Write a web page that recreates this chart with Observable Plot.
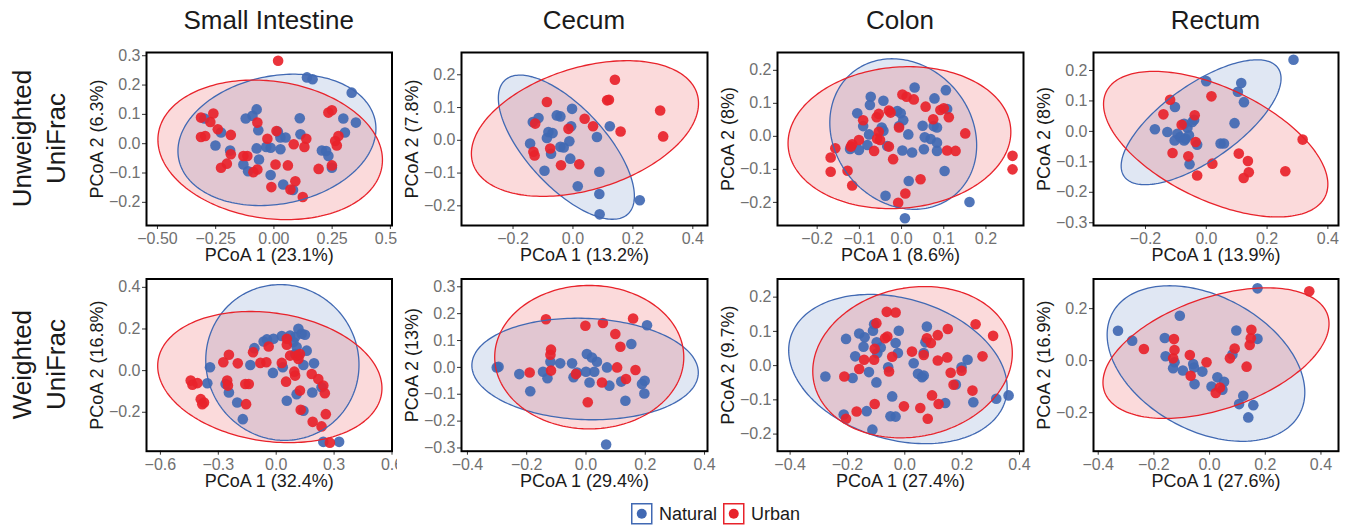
<!DOCTYPE html>
<html><head><meta charset="utf-8">
<script src="https://cdn.jsdelivr.net/npm/d3@7"></script>
<script src="https://cdn.jsdelivr.net/npm/@observablehq/plot@0.6"></script>
<style>
body{margin:0;background:#fff;}
#root{position:relative;width:1349px;height:527px;overflow:hidden;background:#fff;font-family:'Liberation Sans',Arial,sans-serif;}
.pnl{position:absolute;}
.pnl svg{display:block;}
</style>
</head><body><div id="root"></div>
<script>
// ---------- data ----------
const columnTitles = ["Small Intestine", "Cecum", "Colon", "Rectum"];
const rowTitles = [["Unweighted", "UniFrac"], ["Weighted", "UniFrac"]];
const groups = ["Natural", "Urban"];
const groupColors = ["#4169B3", "#E8232B"];

const xLabels = ["PCoA 1 (23.1%)", "PCoA 1 (13.2%)", "PCoA 1 (8.6%)", "PCoA 1 (13.9%)",
                 "PCoA 1 (32.4%)", "PCoA 1 (29.4%)", "PCoA 1 (27.4%)", "PCoA 1 (27.6%)"];
const yLabels = ["PCoA 2 (6.3%)", "PCoA 2 (7.8%)", "PCoA 2 (8%)", "PCoA 2 (8%)",
                 "PCoA 2 (16.8%)", "PCoA 2 (13%)", "PCoA 2 (9.7%)", "PCoA 2 (16.9%)"];

const xDomains = [[-0.547, 0.507], [-0.372, 0.449], [-0.294, 0.289], [-0.371, 0.435],
                  [-0.672, 0.6], [-0.42, 0.41], [-0.444, 0.414], [-0.417, 0.463]];
const yDomains = [[-0.279, 0.311], [-0.26, 0.268], [-0.27, 0.254], [-0.309, 0.259],
                  [-0.387, 0.44], [-0.312, 0.329], [-0.25, 0.253], [-0.348, 0.314]];

const xTicks = [[-0.5, -0.25, 0, 0.25, 0.5], [-0.2, 0, 0.2, 0.4], [-0.2, -0.1, 0, 0.1, 0.2], [-0.2, 0, 0.2, 0.4],
                [-0.6, -0.3, 0, 0.3, 0.6], [-0.4, -0.2, 0, 0.2, 0.4], [-0.4, -0.2, 0, 0.2, 0.4], [-0.4, -0.2, 0, 0.2, 0.4]];
const xTickFormats = [".2f", ".1f", ".1f", ".1f", ".1f", ".1f", ".1f", ".1f"];
const yTicks = [[-0.2, -0.1, 0, 0.1, 0.2, 0.3], [-0.2, -0.1, 0, 0.1, 0.2], [-0.2, -0.1, 0, 0.1, 0.2], [-0.3, -0.2, -0.1, 0, 0.1, 0.2],
                [-0.2, 0, 0.2, 0.4], [-0.3, -0.2, -0.1, 0, 0.1, 0.2, 0.3], [-0.2, -0.1, 0, 0.1, 0.2], [-0.2, 0, 0.2]];

// ellipse: [centerX, centerY, halfWidthX, halfHeightY, tilt (sin of phase)]
const naturalEllipses = [[0.013, 0.013, 0.425, 0.224, 0.17], [-0.022, -0.021, 0.227, 0.22, -0.68],
                         [0.004, 0.007, 0.174, 0.228, -0.15], [-0.017, 0.03, 0.263, 0.205, 0.7],
                         [0.032, 0.039, 0.397, 0.374, -0.03], [-0.003, -0.006, 0.382, 0.189, -0.07],
                         [-0.024, -0.01, 0.381, 0.218, -0.25], [-0.013, -0.011, 0.355, 0.299, -0.37]];
const urbanEllipses = [[-0.016, -0.021, 0.482, 0.238, -0.145], [0.04, 0.036, 0.379, 0.207, 0.37],
                       [-0.005, -0.004, 0.264, 0.215, 0.08], [0.031, -0.042, 0.369, 0.239, -0.55],
                       [-0.033, -0.031, 0.581, 0.315, -0.17], [0.011, 0.038, 0.319, 0.267, 0],
                       [0.027, 0.01, 0.348, 0.221, 0.12], [0.023, 0.029, 0.406, 0.251, 0.45]];

// points per panel
const siUnweightedNatural = [[0.142,0.226],[0.166,0.22],[0.334,0.174],[0.298,0.086],[0.352,0.072],[0.305,0.038],[0.206,-0.023],[0.224,-0.025],[0.234,-0.042],[0.249,-0.082],[0.111,0.087],[0.114,0.032],[0.028,0.021],[0.05,0.021],[0.028,-0.019],[-0.014,-0.014],[-0.033,-0.011],[0.017,0.041],[-0.074,0.117],[-0.092,0.095],[-0.121,0.086],[-0.067,0.046],[-0.074,-0.016],[-0.227,0.038],[-0.188,-0.023],[-0.251,-0.006],[-0.131,-0.071],[-0.111,-0.094],[-0.064,-0.054],[-0.014,-0.107],[0.04,-0.139],[0.082,-0.158],[-0.298,0.086]];
const siUnweightedUrban = [[0.018,0.283],[-0.313,0.089],[-0.26,0.103],[-0.273,0.074],[-0.241,0.049],[-0.313,0.023],[-0.295,0.026],[-0.185,0.03],[-0.227,-0.082],[-0.202,-0.068],[-0.185,-0.036],[-0.071,0.072],[-0.114,-0.042],[-0.131,-0.042],[-0.071,-0.088],[-0.088,-0.097],[-0.028,0.017],[0.011,0.043],[0.007,-0.071],[0.06,-0.074],[-0.011,-0.148],[0.085,-0.002],[0.139,0.017],[0.131,-0.011],[0.192,-0.086],[0.234,0.106],[0.249,0.114],[0.263,0.009],[0.277,0.026],[0.27,-0.006],[0.249,-0.074],[0.092,-0.128],[0.071,-0.156],[0.124,-0.182]];
const cecUnweightedNatural = [[-0.003,0.096],[-0.115,0.068],[-0.134,0.056],[-0.054,0.076],[-0.042,0.073],[-0.082,0.025],[-0.068,0.022],[-0.087,0.007],[-0.006,0.043],[-0.143,-0.01],[-0.012,-0.003],[-0.042,-0.02],[-0.031,-0.022],[-0.073,-0.041],[-0.009,-0.056],[-0.095,-0.093],[0.08,0.01],[0.123,0.043],[0.088,-0.096],[0.016,-0.14],[0.088,-0.164],[0.223,-0.183],[0.089,-0.226]];
const cecUnweightedUrban = [[0.14,0.185],[0.114,0.122],[0.12,0.124],[0.291,0.091],[0.301,0.012],[0.159,0.027],[0.067,0.043],[0.039,0.066],[-0.015,0.035],[-0.087,0.117],[-0.126,0.051],[-0.132,-0.035],[-0.128,-0.046],[-0.076,-0.025],[-0.04,-0.076],[0.021,-0.073]];
const colUnweightedNatural = [[0.031,0.148],[0.105,0.14],[0.078,0.115],[-0.073,0.12],[-0.075,0.095],[-0.043,0.108],[-0.105,0.07],[-0.01,0.077],[-0.002,0.07],[0.004,0.049],[-0.091,0.031],[-0.077,0.006],[-0.047,0.027],[-0.043,0.017],[-0.006,0.031],[0.016,0.006],[0.05,0.032],[0.076,0.031],[0.084,0.027],[0.055,-0.003],[0.069,-0.008],[0.084,-0.019],[0.084,-0.044],[0.108,0.083],[0.053,-0.039],[0.002,-0.043],[0.025,-0.049],[-0.122,-0.038],[-0.101,-0.041],[-0.081,-0.026],[-0.034,-0.029],[0.102,-0.105],[0.017,-0.135],[-0.038,-0.18],[0.161,-0.199],[0.008,-0.248]];
const colUnweightedUrban = [[0.002,0.127],[0.012,0.12],[0.029,0.112],[0.057,0.09],[0.092,0.08],[0.1,0.085],[0.112,0.058],[0.075,0.052],[0.151,0.009],[0.108,-0.043],[0.128,-0.044],[0.263,-0.059],[0.263,-0.1],[0.045,-0.13],[0.009,-0.173],[-0.008,-0.201],[-0.02,-0.069],[-0.03,-0.031],[-0.054,0.014],[-0.058,-0.007],[-0.051,-0.011],[-0.03,0.078],[-0.026,0.072],[-0.054,0.068],[-0.059,0.058],[-0.065,-0.044],[-0.091,0.049],[-0.101,-0.011],[-0.117,-0.024],[-0.12,-0.031],[-0.157,-0.036],[-0.168,-0.064],[-0.168,-0.107],[-0.128,-0.104],[-0.117,-0.149],[-0.006,0.027]];
const recUnweightedNatural = [[0.287,0.235],[0,0.165],[0.115,0.159],[0.104,0.13],[0.124,0.096],[0.093,0.027],[-0.103,0.08],[-0.169,0.007],[-0.128,-0.002],[-0.073,0.025],[-0.062,0.012],[-0.046,0.031],[-0.04,0.038],[-0.095,-0.008],[-0.086,-0.019],[-0.104,-0.03],[-0.068,-0.024],[-0.057,-0.013],[-0.073,-0.03],[-0.03,-0.044],[0.047,-0.04],[0.058,-0.04],[-0.055,-0.108]];
const recUnweightedUrban = [[-0.119,0.104],[-0.141,0.056],[0.017,0.115],[-0.038,0.053],[-0.081,0.022],[-0.111,-0.071],[-0.059,-0.082],[-0.035,-0.035],[0.02,-0.106],[-0.03,-0.145],[0.107,-0.073],[0.137,-0.097],[0.14,-0.134],[0.123,-0.153],[0.26,-0.131],[0.317,-0.027]];
const siWeightedNatural = [[-0.343,0.016],[-0.357,-0.061],[-0.262,-0.064],[-0.245,-0.105],[-0.202,-0.153],[-0.173,-0.233],[-0.134,0.027],[-0.113,0.108],[-0.065,0.14],[-0.048,0.15],[-0.014,0.153],[0.029,0.166],[0.072,0.169],[0.098,0.161],[0.115,0.201],[0.132,0.177],[0.149,0.172],[0.089,0.137],[0.106,0.113],[-0.017,-0.011],[0.034,0.016],[0.055,-0.145],[0.098,0.08],[0.115,0.072],[0.141,0.027],[0.158,0.096],[0.196,0.035],[0.187,-0.105],[0.106,-0.113],[0.141,-0.193],[0.235,-0.08],[0.244,-0.342],[0.326,-0.342]];
const siWeightedUrban = [[-0.443,-0.048],[-0.434,-0.068],[-0.408,-0.06],[-0.391,-0.137],[-0.383,-0.161],[-0.374,-0.153],[-0.274,0.04],[-0.245,0.076],[-0.199,0.035],[-0.254,-0.048],[-0.25,-0.072],[-0.16,-0.064],[-0.142,-0.064],[-0.156,-0.161],[-0.12,0.088],[-0.082,0.037],[-0.051,0.04],[-0.039,0.116],[0.029,0.037],[0.051,-0.053],[0.055,0.124],[0.055,0.153],[0.072,0.072],[0.106,0.072],[0.115,0.056],[0.094,-0.005],[0.098,-0.024],[0.123,-0.096],[0.127,-0.188],[0.184,-0.016],[0.218,-0.04],[0.244,-0.072],[0.252,-0.109],[0.257,-0.209],[0.189,-0.246],[0.235,-0.268],[0.278,-0.346],[0.123,0.08]];
const cecWeightedNatural = [[0.206,0.157],[0.153,0.087],[-0.295,0.002],[-0.301,0],[-0.225,-0.025],[-0.188,-0.089],[-0.145,-0.016],[-0.13,-0.04],[-0.12,0.021],[-0.087,0.015],[-0.047,0.015],[-0.042,-0.037],[-0.03,-0.019],[0.003,0.05],[0.02,0.037],[0.037,0.021],[0,-0.016],[0.028,-0.016],[0.071,0],[0.012,-0.056],[0.079,-0.068],[0.119,-0.053],[0.133,-0.124],[0.189,-0.062],[0.198,-0.05],[0.197,-0.097],[0.068,-0.287]];
const cecWeightedUrban = [[-0.135,0.179],[-0.002,0.155],[0.057,0.165],[0.159,0.182],[0.099,0.124],[0.116,0.077],[-0.118,0.066],[-0.12,0.047],[-0.118,-0.012],[-0.19,-0.019],[-0.034,-0.025],[0.054,-0.056],[0.105,0],[0.167,-0.01],[0.135,-0.043],[0.006,-0.13]];
const colWeightedNatural = [[-0.205,0.078],[-0.159,0.094],[-0.14,0.083],[-0.144,0.055],[-0.107,0.121],[-0.111,0.102],[-0.098,0.068],[-0.084,0.053],[-0.096,0.036],[-0.173,0.027],[-0.125,-0.019],[-0.182,-0.036],[-0.277,-0.032],[-0.099,-0.049],[-0.058,-0.005],[-0.021,0.102],[-0.032,0.066],[-0.024,0.037],[0.031,0.007],[0.046,-0.024],[0.066,-0.029],[0.06,-0.034],[0.077,0.114],[0.072,0.068],[0.066,0.037],[0.198,-0.005],[0.219,0.017],[0.178,-0.055],[0.239,-0.107],[0.141,-0.109],[0.319,-0.097],[0.362,-0.087],[-0.044,-0.09],[-0.05,-0.148],[-0.032,-0.149],[-0.133,-0.133],[-0.213,-0.143],[-0.113,-0.187]];
const colWeightedUrban = [[-0.063,0.157],[-0.032,0.155],[-0.099,0.124],[-0.069,0.08],[-0.061,0.085],[-0.105,0.049],[-0.107,0.017],[-0.142,0.017],[-0.159,-0.01],[-0.211,-0.032],[-0.044,0.026],[-0.055,-0.017],[0.025,0.041],[0.066,0.031],[0.077,0.08],[0.091,0.066],[0.115,0.089],[0.15,0.107],[0.115,0.015],[0.148,0.024],[0.16,-0.021],[0.17,-0.056],[0.198,-0.015],[0.247,0.121],[0.308,0.087],[0.271,0.027],[0.236,-0.073],[0.095,-0.087],[0.118,-0.112],[-0.003,-0.119],[0.054,-0.124],[0.08,-0.155],[-0.105,-0.112],[-0.168,-0.134],[-0.205,-0.155]];
const recWeightedNatural = [[0.172,0.278],[-0.329,0.115],[-0.278,0.077],[-0.107,0.173],[-0.161,0.087],[-0.158,0.017],[-0.126,-0.006],[-0.131,-0.029],[-0.096,-0.038],[-0.059,-0.013],[-0.056,-0.026],[-0.026,-0.042],[-0.054,-0.09],[0.007,-0.099],[0.028,-0.064],[0.052,-0.081],[0.046,-0.112],[0.096,0.116],[0.082,0.024],[0.172,0.084],[0.121,-0.135],[0.106,-0.167],[0.157,-0.171],[0.139,-0.218]];
const recWeightedUrban = [[0.358,0.267],[-0.236,0.045],[-0.128,0.083],[-0.126,0.041],[-0.131,0.009],[-0.071,0.022],[-0.068,-0.058],[-0.011,-0.006],[0.022,-0.124],[0.037,-0.103],[0.073,0.009],[0.09,0.047],[0.133,-0.023],[0.144,0.06],[0.148,0.086],[0.15,0.119]];

const naturalPoints = [siUnweightedNatural, cecUnweightedNatural, colUnweightedNatural, recUnweightedNatural,
                       siWeightedNatural, cecWeightedNatural, colWeightedNatural, recWeightedNatural];
const urbanPoints = [siUnweightedUrban, cecUnweightedUrban, colUnweightedUrban, recUnweightedUrban,
                     siWeightedUrban, cecWeightedUrban, colWeightedUrban, recWeightedUrban];

// ---------- layout ----------
const FONT = "'Liberation Sans', Arial, sans-serif";
const cols = [{start: 75, end: 397, fl: 146, fr: 391.5}, {start: 397, end: 716, fl: 461, fr: 707},
              {start: 716, end: 1031, fl: 777, fr: 1023}, {start: 1031, end: 1349, fl: 1093, fr: 1338}];
const rows = [{start: 40, end: 268, ft: 52, fb: 225}, {start: 268, end: 500, ft: 278.5, fb: 450.7}];

function ellipsePath([cx, cy, rx, ry, s]) {
  const phi = Math.asin(s);
  return d3.range(0, 200).map(k => {
    const t = (k / 200) * 2 * Math.PI;
    return {x: cx + rx * Math.cos(t), y: cy + ry * Math.sin(t + phi)};
  });
}

const root = document.getElementById("root");

// titles, row labels, legend
const over = d3.create("svg").attr("width", 1349).attr("height", 527)
  .style("position", "absolute").style("left", 0).style("top", 0)
  .style("font-family", FONT);
columnTitles.forEach((t, c) => {
  over.append("text").attr("x", (cols[c].fl + cols[c].fr) / 2).attr("y", 29)
    .attr("text-anchor", "middle").attr("font-size", 26).attr("fill", "#1a1a1a").text(t);
});
rowTitles.forEach((lines, r) => {
  const cy = (rows[r].ft + rows[r].fb) / 2;
  lines.forEach((l, j) => {
    over.append("text").attr("transform", `translate(${31 + j * 34},${cy}) rotate(-90)`)
      .attr("text-anchor", "middle").attr("font-size", 26).attr("fill", "#1a1a1a").text(l);
  });
});
const legendX = [631, 723];
groups.forEach((g, k) => {
  const x0 = legendX[k];
  over.append("rect").attr("x", x0 + 0.75).attr("y", 503.75).attr("width", 20).attr("height", 20)
    .attr("fill", "white").attr("stroke", groupColors[k]).attr("stroke-width", 1.5);
  over.append("circle").attr("cx", x0 + 10.75).attr("cy", 513.75).attr("r", 5).attr("fill", groupColors[k]);
  over.append("text").attr("x", x0 + 28).attr("y", 520).attr("font-size", 18).attr("fill", "#1a1a1a").text(g);
});
root.appendChild(over.node());

for (let i = 0; i < 8; i++) {
  const r = Math.floor(i / 4), c = i % 4;
  const col = cols[c], row = rows[r];
  const width = col.end - col.start, height = row.end - row.start;
  const fmtX = d3.format(xTickFormats[i]);
  const fmtY = d3.format(".1f");
  const natE = ellipsePath(naturalEllipses[i]);
  const urbE = ellipsePath(urbanEllipses[i]);
  const chart = Plot.plot({
    width, height,
    marginLeft: col.fl - col.start, marginRight: col.end - col.fr,
    marginTop: row.ft - row.start, marginBottom: row.end - row.fb,
    style: {fontFamily: FONT, fontSize: "16px", background: "white", overflow: "hidden"},
    x: {domain: xDomains[i]},
    y: {domain: yDomains[i]},
    marks: [
      Plot.line(natE, {x: "x", y: "y", curve: "linear-closed", fill: groupColors[0], fillOpacity: 0.16, stroke: "none"}),
      Plot.line(urbE, {x: "x", y: "y", curve: "linear-closed", fill: groupColors[1], fillOpacity: 0.17, stroke: "none"}),
      Plot.dot(naturalPoints[i], {x: d => d[0], y: d => d[1], r: 5.3, fill: groupColors[0], fillOpacity: 0.92}),
      Plot.dot(urbanPoints[i], {x: d => d[0], y: d => d[1], r: 5.3, fill: groupColors[1], fillOpacity: 0.92}),
      Plot.line(natE, {x: "x", y: "y", curve: "linear-closed", stroke: groupColors[0], strokeWidth: 1.3}),
      Plot.line(urbE, {x: "x", y: "y", curve: "linear-closed", stroke: groupColors[1], strokeWidth: 1.3}),
      Plot.axisX({ticks: xTicks[i], tickFormat: fmtX, tickSize: 4, tickPadding: 3, stroke: "#333", fill: "#707070", fontSize: 16, label: null}),
      Plot.axisY({ticks: yTicks[i], tickFormat: fmtY, tickSize: 4, tickPadding: 2, stroke: "#333", fill: "#707070", fontSize: 16, label: null}),
      Plot.frame({stroke: "black", strokeWidth: 2}),
      Plot.text([xLabels[i]], {frameAnchor: "bottom", dy: 30, lineAnchor: "middle", textAnchor: "middle", text: d => d, fontSize: 18, fill: "#1a1a1a"}),
      Plot.text([yLabels[i]], {frameAnchor: "left", dx: -49, rotate: -90, lineAnchor: "middle", textAnchor: "middle", text: d => d, fontSize: 18, fill: "#1a1a1a"})
    ]
  });
  const wrap = document.createElement("div");
  wrap.className = "pnl";
  wrap.style.left = col.start + "px";
  wrap.style.top = row.start + "px";
  wrap.style.width = width + "px";
  wrap.style.height = height + "px";
  wrap.style.overflow = "hidden";
  wrap.appendChild(chart);
  root.appendChild(wrap);
}
</script>
</body></html>
